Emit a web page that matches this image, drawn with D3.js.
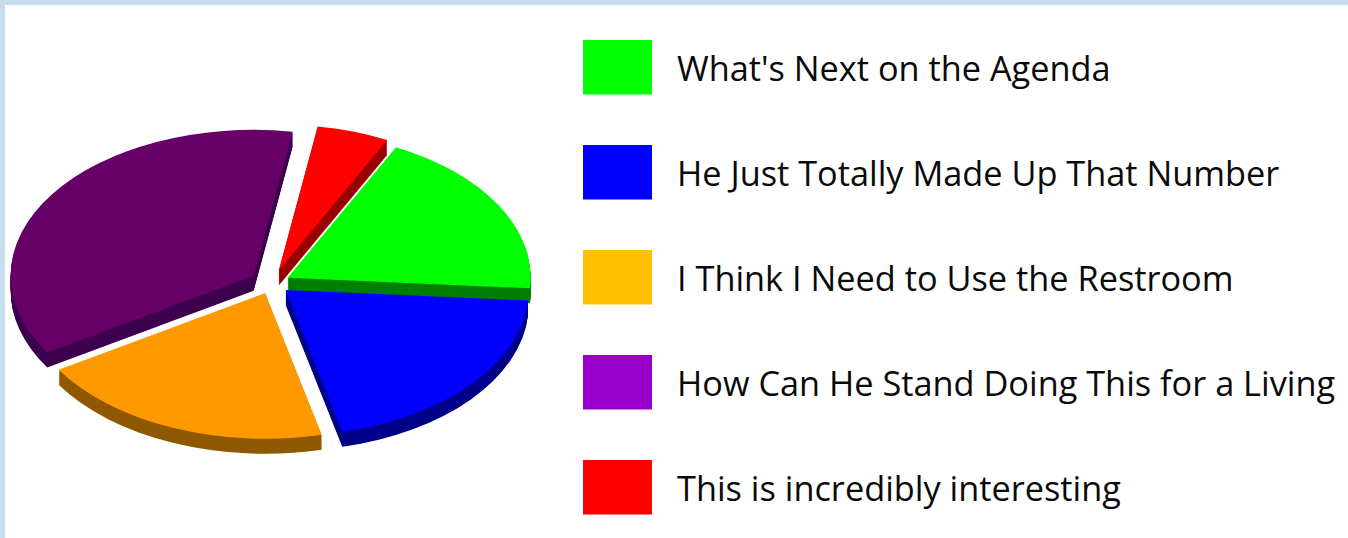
<!DOCTYPE html>
<html>
<head>
<meta charset="utf-8">
<script src="https://cdn.jsdelivr.net/npm/d3@7/dist/d3.min.js"></script>
<style>
  html, body { margin: 0; padding: 0; background: #fff; overflow: hidden; }
  svg { display: block; }
  text { font-family: "Open Sans", Lato, sans-serif; fill: #0a0a0a; font-variant-ligatures: none; }
</style>
</head>
<body>
<svg id="chart" width="1348" height="538"></svg>
<script>
const categories = [
  "What's Next on the Agenda",
  "He Just Totally Made Up That Number",
  "I Think I Need to Use the Restroom",
  "How Can He Stand Doing This for a Living",
  "This is incredibly interesting"
];
const shares = [18.8, 20.1, 19.9, 36.4, 4.8];
const legendColors = ["#00ff00", "#0000ff", "#ffc000", "#9900cc", "#ff0000"];
const topColors = ["#00ff00", "#0000ff", "#ff9900", "#660066", "#ff0000"];
const sideColors = ["#007f00", "#00008a", "#8f5900", "#3d004f", "#990000"];
// How far each wedge is pulled out of the pie.
const pullOut = [18, 18, 18, 22, 22];
// Painter's order of the wedges: rear ones first so nearer faces cover their sides.
const paintOrder = [3, 4, 0, 2, 1];

const width = 1348, height = 538;
const svg = d3.select("#chart");

// Page frame: pale blue strip along the top and left edges.
svg.append("rect").attr("width", width).attr("height", height).attr("fill", "#c9dcef");
svg.append("rect").attr("x", 5).attr("y", 5).attr("width", width - 5).attr("height", height - 5).attr("fill", "#fff");

// Tilted, exploded pie.
const cx = 272, cy = 283, radius = 243, tilt = 0.6, depth = 15;
const deg = Math.PI / 180;
const pie = d3.pie().sort(null).value(d => d)
  .startAngle(26.5 * deg).endAngle(386.5 * deg);
const arcs = pie(shares);
const arc = d3.arc().innerRadius(0).outerRadius(radius);

const pieG = svg.append("g").attr("transform", `translate(${cx},${cy})`);
const wedges = pieG.selectAll("g.wedge")
  .data(paintOrder.map(i => ({ i, a: arcs[i] })))
  .join("g")
  .attr("class", "wedge")
  .attr("transform", d => {
    const mid = (d.a.startAngle + d.a.endAngle) / 2;
    const e = pullOut[d.i];
    return `translate(${e * Math.sin(mid)},${-e * Math.cos(mid) * tilt})`;
  });

// Thickness: the sector repeated downward in its shaded colour, then the top face.
wedges.each(function (d) {
  const g = d3.select(this);
  g.selectAll("path.side")
    .data(d3.range(depth, 0, -1))
    .join("path")
    .attr("class", "side")
    .attr("transform", y => `translate(0,${y}) scale(1,${tilt})`)
    .attr("d", arc(d.a))
    .attr("fill", sideColors[d.i]);
  g.append("path")
    .attr("transform", `scale(1,${tilt})`)
    .attr("d", arc(d.a))
    .attr("fill", topColors[d.i]);
});

// Legend
const rowY = d3.scalePoint().domain(categories).range([67, 487]);
const rows = svg.selectAll("g.row").data(categories).join("g")
  .attr("class", "row")
  .attr("transform", d => `translate(0,${rowY(d)})`);
rows.append("rect")
  .attr("x", 583).attr("y", -27).attr("width", 69).attr("height", 54.5)
  .attr("fill", (d, i) => legendColors[i]);
rows.append("text")
  .attr("x", 677).attr("y", 13.5)
  .attr("font-size", 34.3)
  .text(d => d);
</script>
</body>
</html>
